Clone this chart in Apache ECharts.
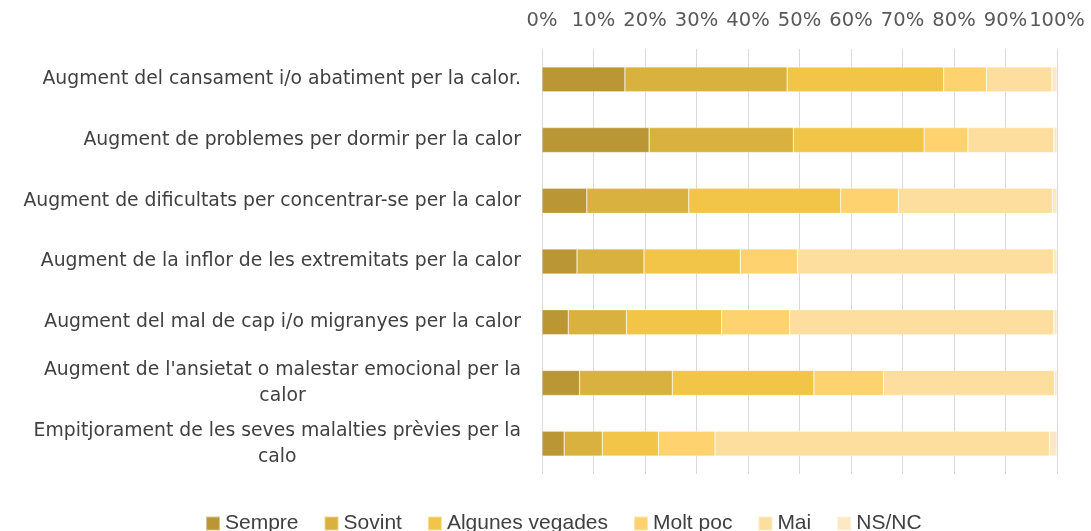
<!DOCTYPE html>
<html>
<head>
<meta charset="utf-8">
<script src="https://cdn.jsdelivr.net/npm/echarts@6/dist/echarts.min.js"></script>
<style>
  html, body { margin: 0; padding: 0; background: #fff; }
  #chart { width: 1091px; height: 531px; }
</style>
</head>
<body>
<div id="chart"></div>
<script>
// categories, top to bottom
var categories = [
  'Augment del cansament i/o abatiment per la calor.',
  'Augment de problemes per dormir per la calor',
  'Augment de dificultats per concentrar-se per la calor',
  'Augment de la inflor de les extremitats per la calor',
  'Augment del mal de cap i/o migranyes per la calor',
  "Augment de l'ansietat o malestar emocional per la\ncalor",
  'Empitjorament de les seves malalties prèvies per la\ncalo'
];

var seriesNames = ['Sempre', 'Sovint', 'Algunes vegades', 'Molt poc', 'Mai', 'NS/NC'];

// percentages
var sempre  = [16.1, 20.8, 8.7, 6.8, 5.1, 7.3, 4.3];
var sovint  = [31.5, 28.0, 19.8, 13.0, 11.3, 18.0, 7.4];
var algunes = [30.4, 25.4, 29.5, 18.7, 18.5, 27.5, 10.9];
var moltPoc = [8.3, 8.5, 11.2, 11.1, 13.2, 13.5, 11.0];
var mai     = [12.7, 16.7, 29.9, 49.7, 51.3, 33.2, 64.9];
var nsnc    = [1.0, 0.6, 0.9, 0.7, 0.6, 0.5, 1.5];

var colors = ['#BA9734', '#D9B13F', '#F2C548', '#FDD26F', '#FDDE9E', '#FDE8C4'];

var chart = echarts.init(document.getElementById('chart'), null, { renderer: 'canvas' });

var values = [sempre, sovint, algunes, moltPoc, mai, nsnc];
var series = seriesNames.map(function (name, i) {
  return {
    name: name,
    type: 'bar',
    stack: 'total',
    barWidth: 25,
    data: values[i],
    itemStyle: {
      color: colors[i],
      borderColor: 'rgba(255,255,255,0.45)',
      borderWidth: 0.6
    }
  };
});

var option = {
  color: colors,
  animation: false,
  grid: {
    left: 542,
    right: 34,
    top: 49,
    bottom: 57
  },
  legend: {
    left: 205,
    top: 513,
    padding: 0,
    itemWidth: 14,
    itemHeight: 14,
    itemGap: 25,
    icon: 'rect',
    data: seriesNames,
    textStyle: {
      fontFamily: 'Liberation Sans',
      fontSize: 21,
      color: '#404040'
    }
  },
  xAxis: {
    type: 'value',
    position: 'top',
    min: 0,
    max: 100,
    interval: 10,
    axisLine: { show: false },
    axisTick: { show: false },
    splitLine: { lineStyle: { color: '#D9D9D9', width: 1 } },
    axisLabel: {
      formatter: '{value}%',
      fontFamily: 'DejaVu Sans',
      fontSize: 19.5,
      color: '#595959',
      margin: 18
    }
  },
  yAxis: {
    type: 'category',
    inverse: true,
    data: categories,
    axisLine: { show: false },
    axisTick: { show: false },
    axisLabel: {
      margin: 21,
      formatter: function (v) {
        return v.split('\n').map(function (s) { return '{c|' + s + '}'; }).join('\n');
      },
      rich: {
        c: {
          align: 'center',
          fontFamily: 'DejaVu Sans',
          fontSize: 18.8,
          lineHeight: 26,
          color: '#404040'
        }
      }
    }
  },
  series: series
};

chart.setOption(option);
</script>
</body>
</html>
